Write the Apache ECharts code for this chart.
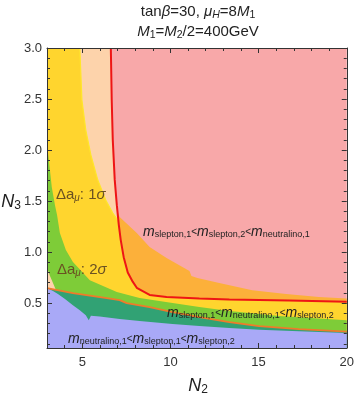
<!DOCTYPE html>
<html>
<head>
<meta charset="utf-8">
<script src="https://cdn.jsdelivr.net/npm/echarts@6/dist/echarts.min.js"></script>
<style>
  html, body { margin: 0; padding: 0; background: #fff; }
  #main { width: 357px; height: 396px; }
</style>
</head>
<body>
<div id="main"></div>
<script>
// region boundaries, as [N2, N3]
const redLine = [
  [6.62, 3.0], [6.67, 2.49], [6.73, 2.10], [6.84, 1.71], [6.96, 1.46],
  [7.07, 1.27], [7.18, 1.12], [7.35, 0.95], [7.58, 0.80], [7.86, 0.71],
  [8.09, 0.65], [8.82, 0.58], [9.78, 0.56], [11.64, 0.544], [13.34, 0.536],
  [16.73, 0.525], [20, 0.513]
]
const orangeTop = [
  [7.0, 1.40], [7.12, 1.343], [8.09, 1.186], [8.82, 1.049], [9.78, 0.941],
  [10.68, 0.853], [11.08, 0.814], [11.19, 0.765], [11.53, 0.745], [12.77, 0.696],
  [14.64, 0.627], [16.56, 0.588], [18.42, 0.559], [20, 0.544]
]
const yellowEdge = [
  [3, 3.0], [4.86, 3.0], [4.98, 2.49], [5.20, 2.196], [5.49, 1.951],
  [5.88, 1.706], [6.33, 1.51], [6.73, 1.382], [7.01, 1.314]
]
const greenEdge = [
  [3, 2.147], [3.06, 1.971], [3.27, 1.637], [3.45, 1.461], [3.57, 1.363],
  [3.73, 1.186], [4.07, 1.02], [4.47, 0.902], [5.43, 0.725], [6.96, 0.608],
  [8.25, 0.549], [10.12, 0.50], [11.64, 0.461], [13.34, 0.422], [16.16, 0.373],
  [20, 0.333]
]
const patchEdge = [[3, 0.843], [3.17, 0.765], [3.34, 0.696], [3.51, 0.627]]
const neutralinoEdge = [
  [3, 0.647], [4.47, 0.598], [6.39, 0.549], [7.12, 0.529], [7.52, 0.50],
  [8.82, 0.461], [10.12, 0.412], [11.64, 0.363], [13.34, 0.314], [15.03, 0.275],
  [17.29, 0.245], [20, 0.221]
]
const blueTop = [
  [3, 0.647], [3.34, 0.618], [3.62, 0.588], [4.02, 0.539], [4.47, 0.48],
  [4.86, 0.431], [5.20, 0.382], [5.37, 0.333], [5.49, 0.377], [5.99, 0.368],
  [7.12, 0.343], [8.25, 0.324], [10.12, 0.294], [11.64, 0.275], [13.34, 0.255],
  [15.03, 0.24], [17.29, 0.225], [20, 0.206]
]

const xMajor = [5, 10, 15, 20]
const xMinor = [4, 6, 7, 8, 9, 11, 12, 13, 14, 16, 17, 18, 19]
const yMajor = [0.5, 1.0, 1.5, 2.0, 2.5, 3.0]
const yMinor = []
for (let i = 1; i < 30; i++) {
  if (i % 5 !== 0) yMinor.push(i / 10)
}

const font = 'Liberation Sans, Arial, sans-serif'
const xRange = { min: 3, max: 20 }
const yRange = { min: 0.06, max: 3 }

const chart = echarts.init(document.getElementById('main'))

const area = (data, color, z) => ({
  type: 'line',
  data: data,
  showSymbol: false,
  silent: true,
  z: z,
  lineStyle: { width: 0 },
  areaStyle: { color: color, opacity: 1, origin: 'start' }
})
const curve = (data, color, width, z) => ({
  type: 'line',
  data: data,
  showSymbol: false,
  silent: true,
  z: z,
  lineStyle: { color: color, width: width }
})

const lastYellow = yellowEdge[yellowEdge.length - 1][0]
const yellowArea = yellowEdge.concat(redLine.filter((p) => p[0] > lastYellow))

const frameLine = { show: true, onZero: false, lineStyle: { color: '#333', width: 1 } }
const majorTick = (vals) => ({ show: true, inside: true, length: 5, customValues: vals, lineStyle: { color: '#333' } })
const minorTick = (vals) => ({ show: true, inside: true, length: 3, customValues: vals, lineStyle: { color: '#333' } })

const xAxis = (pos, tick, line, label) => ({
  type: 'value', ...xRange, position: pos, z: 30,
  splitLine: { show: false },
  axisLine: line ? frameLine : { show: false },
  axisTick: tick,
  axisLabel: label || { show: false }
})
const yAxis = (pos, tick, line, label) => ({
  type: 'value', ...yRange, position: pos, z: 30,
  splitLine: { show: false },
  axisLine: line ? frameLine : { show: false },
  axisTick: tick,
  axisLabel: label || { show: false }
})

const sub = (size, pad) => ({ fontSize: size, fontFamily: font, padding: [pad, 0, 0, 0] })

const option = {
  animation: false,
  grid: { left: 47, right: 9, top: 48, bottom: 48, show: true, backgroundColor: '#F8A8A9', borderWidth: 0 },
  xAxis: [
    xAxis('bottom', majorTick(xMajor), true,
      { customValues: xMajor, margin: 8, fontSize: 13, color: '#333', fontFamily: font }),
    xAxis('bottom', minorTick(xMinor), false),
    xAxis('top', majorTick(xMajor), true),
    xAxis('top', minorTick(xMinor), false)
  ],
  yAxis: [
    yAxis('left', majorTick(yMajor), true,
      { customValues: yMajor, margin: 5, fontSize: 13, color: '#333', fontFamily: font,
        formatter: (v) => v.toFixed(1) }),
    yAxis('left', minorTick(yMinor), false),
    yAxis('right', majorTick(yMajor), true),
    yAxis('right', minorTick(yMinor), false)
  ],
  series: [
    area(orangeTop, '#FCB03A', 2),
    area([[3, 3.0]].concat(redLine), '#FDD3AB', 3),
    area(yellowArea, '#FFD52E', 4),
    curve(yellowEdge.slice(1), '#FFE62A', 1.2, 5),
    area(greenEdge, '#7ECC38', 6),
    area(patchEdge, '#FDD3AB', 7),
    area(neutralinoEdge, '#31A274', 8),
    area(blueTop, '#A9A9F7', 9),
    curve(neutralinoEdge, '#F07A2A', 1.8, 10),
    curve(redLine, '#EE1515', 2, 11)
  ],
  graphic: [
    { type: 'text', x: 198, y: 12, z: 100, style: {
      text: 'tan{i|β}=30, {i|μ}{si|H}=8{i|M}{s|1}', fontSize: 15, fontFamily: font, fill: '#222',
      align: 'center', verticalAlign: 'middle',
      rich: { i: { fontSize: 15, fontStyle: 'italic', fontFamily: font }, s: sub(10.5, 7), si: { ...sub(10.5, 7), fontStyle: 'italic' } } } },
    { type: 'text', x: 198, y: 32, z: 100, style: {
      text: '{i|M}{s|1}={i|M}{s|2}/2=400GeV', fontSize: 15, fontFamily: font, fill: '#222',
      align: 'center', verticalAlign: 'middle',
      rich: { i: { fontSize: 15, fontStyle: 'italic', fontFamily: font }, s: sub(10.5, 7) } } },
    { type: 'text', x: 11, y: 202, z: 100, style: {
      text: '{i|N}{s|3}', fontSize: 18, fontFamily: font, fill: '#222', align: 'center', verticalAlign: 'middle',
      rich: { i: { fontSize: 18, fontStyle: 'italic', fontFamily: font }, s: sub(12, 8) } } },
    { type: 'text', x: 198, y: 386, z: 100, style: {
      text: '{i|N}{s|2}', fontSize: 18, fontFamily: font, fill: '#222', align: 'center', verticalAlign: 'middle',
      rich: { i: { fontSize: 18, fontStyle: 'italic', fontFamily: font }, s: sub(12, 8) } } },
    { type: 'text', x: 56, y: 195, z: 100, style: {
      text: 'Δa{s|μ}: 1{i|σ}', fontSize: 15, fontFamily: font, fill: '#6A5122', align: 'left', verticalAlign: 'middle',
      rich: { i: { fontSize: 15, fontStyle: 'italic', fontFamily: font, fill: '#6A5122' }, s: { ...sub(10, 7), fontStyle: 'italic', fill: '#6A5122' } } } },
    { type: 'text', x: 57, y: 270, z: 100, style: {
      text: 'Δa{s|μ}: 2{i|σ}', fontSize: 15, fontFamily: font, fill: '#6A5122', align: 'left', verticalAlign: 'middle',
      rich: { i: { fontSize: 15, fontStyle: 'italic', fontFamily: font, fill: '#6A5122' }, s: { ...sub(10, 7), fontStyle: 'italic', fill: '#6A5122' } } } },
    { type: 'text', x: 143, y: 232, z: 100, style: {
      text: '{m|m}{s|slepton,1}{l|<}{m|m}{s|slepton,2}{l|<}{m|m}{s|neutralino,1}',
      fill: '#222', align: 'left', verticalAlign: 'middle',
      rich: { m: { fontSize: 14, fontStyle: 'italic', fontFamily: font }, s: sub(9, 6), l: { fontSize: 10, fontFamily: font } } } },
    { type: 'text', x: 167, y: 313, z: 100, style: {
      text: '{m|m}{s|slepton,1}{l|<}{m|m}{s|neutralino,1}{l|<}{m|m}{s|slepton,2}',
      fill: '#222', align: 'left', verticalAlign: 'middle',
      rich: { m: { fontSize: 14, fontStyle: 'italic', fontFamily: font }, s: sub(9, 6), l: { fontSize: 10, fontFamily: font } } } },
    { type: 'text', x: 68, y: 339, z: 100, style: {
      text: '{m|m}{s|neutralino,1}{l|<}{m|m}{s|slepton,1}{l|<}{m|m}{s|slepton,2}',
      fill: '#222', align: 'left', verticalAlign: 'middle',
      rich: { m: { fontSize: 14, fontStyle: 'italic', fontFamily: font }, s: sub(9, 6), l: { fontSize: 10, fontFamily: font } } } }
  ]
}

chart.setOption(option)
</script>
</body>
</html>
